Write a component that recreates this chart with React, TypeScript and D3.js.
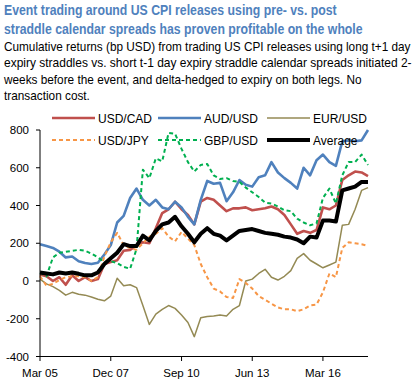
import React, { useLayoutEffect, useRef } from "react";
import * as d3 from "d3";

// Quarterly observation dates, Mar 2005 .. Dec 2017
const dates: Date[] = d3.range(52).map((i) => new Date(2005, 2 + 3 * i, 1));

const usdcad = [35, 25, 0, 20, -20, 30, 0, 20, 0, 10, 90, 100, 110, 160, 165, 190, 205, 200, 280, 360, 380, 420, 380, 350, 300, 420, 440, 430, 400, 370, 385, 385, 390, 375, 380, 385, 395, 380, 350, 300, 250, 265, 255, 270, 390, 380, 400, 535, 560, 580, 575, 555];
const audusd = [195, 185, 175, 155, 125, 130, 105, 95, 90, 97, 140, 190, 310, 345, 440, 490, 430, 400, 430, 390, 380, 420, 390, 340, 300, 430, 530, 515, 520, 423, 470, 535, 510, 500, 550, 560, 630, 575, 545, 520, 490, 600, 560, 640, 670, 630, 610, 740, 745, 740, 745, 800];
const eurusd = [10, -15, -30, -50, -75, -60, -70, -75, -85, -97, -105, -80, 15, -25, -20, -35, -130, -230, -175, -150, -130, -145, -180, -220, -295, -195, -188, -185, -180, -185, -150, -130, 0, 10, 40, 62, 20, 5, 25, 55, 120, 145, 110, 90, 70, 85, 100, 295, 300, 380, 480, 495];
const usdjpy = [25, -25, -15, 5, 20, 25, 25, 20, 0, 20, 130, 205, 255, 190, 175, 165, 200, 235, 250, 280, 235, 210, 260, 225, 190, 90, 20, -40, -55, -85, -90, 10, -10, -40, -80, -100, -120, -140, -150, -150, -160, -150, -130, -125, -60, 40, 20, 175, 205, 200, 195, 185];
const gbpusd = [45, 25, 125, 150, 155, 160, 165, 160, 145, 125, 100, 105, 95, 75, 65, 170, 590, 545, 650, 634, 785, 780, 700, 630, 580, 615, 620, 560, 540, 545, 530, 525, 495, 470, 445, 415, 410, 395, 375, 370, 330, 310, 295, 305, 440, 490, 410, 560, 630, 630, 670, 615];
const average = [45, 40, 35, 45, 40, 45, 38, 30, 30, 45, 90, 120, 150, 195, 185, 185, 240, 215, 265, 300, 310, 340, 290, 250, 205, 250, 280, 250, 240, 215, 240, 265, 270, 275, 265, 255, 250, 245, 235, 230, 220, 200, 235, 230, 320, 320, 315, 480, 490, 500, 525, 525];

const yTicks = [-400, -200, 0, 200, 400, 600, 800];
const xTickDates = [new Date(2005, 2, 1), new Date(2007, 11, 1), new Date(2010, 8, 1), new Date(2013, 5, 1), new Date(2016, 2, 1)];
const xTickLabels = ["Mar 05", "Dec 07", "Sep 10", "Jun 13", "Mar 16"];

const titleLines = [
  "Event trading around US CPI releases using pre- vs. post",
  "straddle calendar spreads has proven profitable on the whole",
];
const subtitleLines = [
  "Cumulative returns (bp USD) from trading US CPI releases using long t+1 day",
  "expiry straddles vs. short t-1 day expiry  straddle calendar spreads initiated 2-",
  "weeks before the event, and delta-hedged to expiry on both legs. No",
  "transaction cost.",
];

const series = [
  { name: "USD/CAD", values: usdcad, color: "#C0504D", width: 2.6, dash: "" },
  { name: "AUD/USD", values: audusd, color: "#4F81BD", width: 2.6, dash: "" },
  { name: "EUR/USD", values: eurusd, color: "#948A54", width: 1.5, dash: "" },
  { name: "USD/JPY", values: usdjpy, color: "#F79646", width: 2, dash: "4,3" },
  { name: "GBP/USD", values: gbpusd, color: "#00B050", width: 2, dash: "4,3" },
  { name: "Average", values: average, color: "#000000", width: 4, dash: "" },
];

const legendPos = [
  { x: 52, y: 118 },
  { x: 158, y: 118 },
  { x: 267, y: 118 },
  { x: 52, y: 140 },
  { x: 158, y: 140 },
  { x: 267, y: 140 },
];

const titleWidths = [333, 359];
const subtitleWidths = [407, 408, 358, 86];

function FitText(props: { x: number; y: number; width: number; children: string; [k: string]: any }) {
  const { x, y, width, children, ...rest } = props;
  const ref = useRef<SVGTextElement>(null);
  useLayoutEffect(() => {
    const el = ref.current;
    if (!el) return;
    const len = el.getComputedTextLength();
    const s = len > 0 ? width / len : 1;
    el.setAttribute("transform", `translate(${x},${y}) scale(${s},1)`);
  }, [x, y, width, children]);
  return (
    <text ref={ref} x={0} y={0} transform={`translate(${x},${y})`} {...rest}>{children}</text>
  );
}

export default function App() {
  const W = 416, H = 382;
  const x = d3.scaleTime().domain([new Date(2005, 2, 1), new Date(2017, 11, 1)]).range([40, 368]);
  const y = d3.scaleLinear().domain([-400, 800]).range([356.5, 130]);
  const font = "Arial, 'Liberation Sans', sans-serif";

  return (
    <svg width={W} height={H} style={{ position: "absolute", left: 0, top: 0 }} fontFamily={font}>
      <rect width={W} height={H} fill="#fff" />
      {titleLines.map((t, i) => (
        <FitText key={i} x={4} y={15 + i * 18.5} width={titleWidths[i]} fontSize={14.5} fontWeight="bold" fill="#4F81BD"
          fontFamily="'Liberation Sans Narrow', 'Arial Narrow', Arial, sans-serif">{t}</FitText>
      ))}
      {subtitleLines.map((t, i) => (
        <FitText key={i} x={4} y={51 + i * 16.3} width={subtitleWidths[i]} fontSize={12} fill="#000">{t}</FitText>
      ))}
      {/* series */}
      {series.map((s) => {
        const line = d3.line<number>().x((_, i) => x(dates[i])).y((v) => y(v));
        return (
          <path key={s.name} d={line(s.values) || ""} fill="none" stroke={s.color}
            strokeWidth={s.width} strokeDasharray={s.dash || undefined} strokeLinejoin="round" />
        );
      })}
      {/* axes */}
      <line x1={40} x2={40} y1={130} y2={356.5} stroke="#000" strokeWidth={1} />
      <line x1={40} x2={368} y1={356.5} y2={356.5} stroke="#000" strokeWidth={1} />
      {yTicks.map((t) => (
        <g key={t}>
          <line x1={36} x2={40} y1={y(t)} y2={y(t)} stroke="#000" />
          <text x={29} y={y(t) + 4} fontSize={11.5} textAnchor="end">{t}</text>
        </g>
      ))}
      {xTickDates.map((d, i) => (
        <g key={i}>
          <line x1={x(d)} x2={x(d)} y1={356.5} y2={361} stroke="#000" />
          <text x={x(d)} y={377} fontSize={11.5} textAnchor="middle">{xTickLabels[i]}</text>
        </g>
      ))}
      {/* legend */}
      {series.map((s, i) => (
        <g key={s.name}>
          <line x1={legendPos[i].x} x2={legendPos[i].x + 43} y1={legendPos[i].y} y2={legendPos[i].y}
            stroke={s.color} strokeWidth={s.width} strokeDasharray={s.dash || undefined} />
          <text x={legendPos[i].x + 46} y={legendPos[i].y + 4.5} fontSize={12}>{s.name}</text>
        </g>
      ))}
    </svg>
  );
}
